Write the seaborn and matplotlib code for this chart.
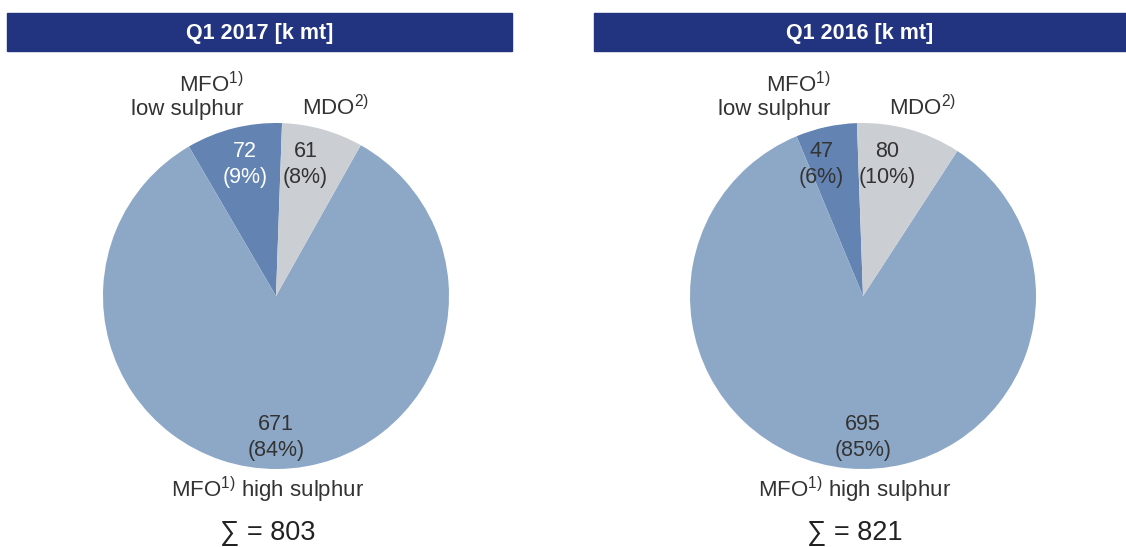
import matplotlib
matplotlib.use("Agg")
import matplotlib.pyplot as plt
import seaborn as sns

# data
titles = ["Q1 2017 [k mt]", "Q1 2016 [k mt]"]
fuel_types = ["MFO low sulphur", "MFO high sulphur", "MDO"]
values_2017 = [72, 671, 61]
values_2016 = [47, 695, 80]
pcts_2017 = [9, 84, 8]
pcts_2016 = [6, 85, 10]
totals = [803, 821]

sns.set_theme(style="white")
plt.rcParams['font.family'] = ['Liberation Sans', 'DejaVu Sans']
plt.rcParams['mathtext.fontset'] = 'custom'
plt.rcParams['mathtext.rm'] = 'Liberation Sans'
plt.rcParams['mathtext.default'] = 'regular'

colors = ["#6383b3", "#8da8c7", "#cbcfd3"]
header_col = "#22347f"
txt_col = "#333333"

W, H = 1126, 547
fig = plt.figure(figsize=(W / 100, H / 100), dpi=100, facecolor="white")

# overlay axes in pixel coordinates for headers and labels
over = fig.add_axes([0, 0, 1, 1])
over.set_xlim(0, W)
over.set_ylim(H, 0)
over.axis("off")


def draw_pie(cx, values, pcts, total, title, bar_x0, bar_x1, start,
             val_cols, val_pos):
    r = 173
    cy = 296
    ax = fig.add_axes([(cx - r) / W, (H - cy - r) / H, 2 * r / W, 2 * r / H])
    labels_in = iter([f"{v}\n({p}%)" for v, p in zip(values, pcts)])
    wedges, _, autotexts = ax.pie(values, colors=colors, startangle=start,
                                  counterclock=True, radius=1,
                                  autopct=lambda p: next(labels_in),
                                  pctdistance=0.8,
                                  wedgeprops=dict(linewidth=0),
                                  textprops=dict(fontsize=15.5, color=txt_col,
                                                 linespacing=1.3))
    # nudge the value labels to where the original has them
    for t, c, pos in zip(autotexts, val_cols, val_pos):
        t.set_color(c)
        t.set_position(pos)
    ax.set_xlim(-1, 1)
    ax.set_ylim(-1, 1)
    ax.set_aspect("equal")

    # header bar
    over.add_patch(plt.Rectangle((bar_x0, 13), bar_x1 - bar_x0, 38,
                                 color=header_col, zorder=0))
    over.text((bar_x0 + bar_x1) / 2, 33, title, color="white", fontsize=15.5,
              fontweight="bold", ha="center", va="center")

    # category labels
    over.text(cx - 89, 96, "MFO$^{1)}$\nlow sulphur", ha="center", va="center",
              fontsize=16, color=txt_col, linespacing=1.15, multialignment="right")
    over.text(cx + 60, 108, "MDO$^{2)}$", ha="center", va="center",
              fontsize=16, color=txt_col)
    over.text(cx - 8, 490, "MFO$^{1)}$ high sulphur", ha="center", va="center",
              fontsize=16, color=txt_col)
    over.text(cx - 8, 533, f"\u2211 = {total}", ha="center", va="center",
              fontsize=19.5, color="#222222")
    return ax


draw_pie(276, values_2017, pcts_2017, totals[0], titles[0], 7, 512, 88,
         ["white", txt_col, txt_col],
         [(-0.18, 0.76), (0.0, -0.82), (0.17, 0.76)])
draw_pie(863, values_2016, pcts_2016, totals[1], titles[1], 594, 1126, 92,
         [txt_col, txt_col, txt_col],
         [(-0.24, 0.76), (0.0, -0.82), (0.14, 0.76)])

fig.savefig("out.png", dpi=100, facecolor="white")
